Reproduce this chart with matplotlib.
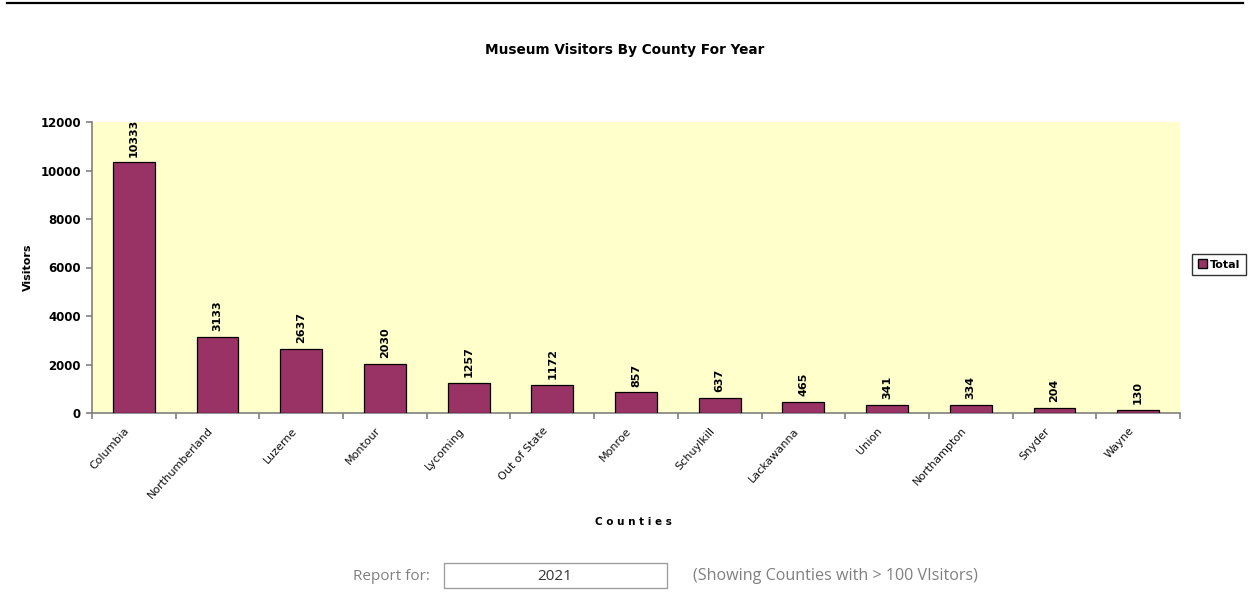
import matplotlib.pyplot as plt
import numpy as np
from matplotlib.patches import Rectangle
from matplotlib.lines import Line2D

counties = ['Columbia', 'Northumberland', 'Luzerne', 'Montour', 'Lycoming',
            'Out of State', 'Monroe', 'Schuylkill', 'Lackawanna', 'Union',
            'Northampton', 'Snyder', 'Wayne']
visitors = [10333, 3133, 2637, 2030, 1257, 1172, 857, 637, 465, 341, 334, 204, 130]
yticks = [0, 2000, 4000, 6000, 8000, 10000, 12000]
report_year = '2021'

bar_color = '#993366'
plot_bg = '#FFFFCC'

fig = plt.figure(figsize=(12.53, 6.09), dpi=100)
ax = fig.add_axes([92 / 1253, 1 - 413 / 609, (1180 - 92) / 1253, (413 - 122) / 609])
ax.set_facecolor(plot_bg)

x = np.arange(len(counties))
bars = ax.bar(x, visitors, width=0.5, color=bar_color, edgecolor='black',
              linewidth=0.9, label='Total', zorder=3)

for xi, v in zip(x, visitors):
    ax.annotate(str(v), (xi, v), xytext=(0, 4), textcoords='offset points',
                rotation=90, ha='center', va='bottom', fontsize=8,
                fontweight='bold', color='black')

ax.set_xlim(-0.5, len(counties) - 0.5)
ax.set_ylim(0, 12000)
ax.set_yticks(yticks)
ax.set_yticklabels([str(t) for t in yticks], fontsize=8.5, fontweight='bold')

# category ticks sit between the bars, labels under each bar
ax.set_xticks(np.arange(-0.5, len(counties)), minor=True)
ax.set_xticks(x - 0.12)
ax.set_xticklabels(counties, rotation=48, ha='right', rotation_mode='anchor',
                   fontsize=8, family='Liberation Sans Narrow', color='#111111')
ax.tick_params(axis='x', which='major', length=0, pad=9)
ax.tick_params(axis='x', which='minor', length=4, color='#808080', width=1.2)
ax.tick_params(axis='y', length=4, color='#808080', width=1.2, pad=4)

for s in ['top', 'right']:
    ax.spines[s].set_visible(False)
ax.spines['left'].set_color('#808080')
ax.spines['bottom'].set_color('#808080')
ax.spines['left'].set_linewidth(1.2)
ax.spines['bottom'].set_linewidth(1.2)

ax.set_ylabel('Visitors', fontsize=8, fontweight='bold')
ax.yaxis.set_label_coords(-0.054, 0.5)
fig.text(633 / 1253, 1 - 522 / 609, 'C o u n t i e s', ha='center', va='center',
         fontsize=7.5, fontweight='bold')

fig.text(625 / 1253, 1 - 50 / 609, 'Museum Visitors By County For Year',
         ha='center', va='center', fontsize=9.8, fontweight='bold')

# legend box on the right
leg = fig.legend(handles=[Rectangle((0, 0), 1, 1, facecolor=bar_color, edgecolor='black')],
                 labels=['Total'], loc='center', bbox_to_anchor=(1219 / 1253, 1 - 264.5 / 609),
                 frameon=True, fancybox=False, edgecolor='black',
                 handlelength=0.8, handleheight=0.8, handletextpad=0.3,
                 borderpad=0.5, prop={'weight': 'bold', 'size': 8})
leg.get_frame().set_linewidth(1.0)

# rule across the top of the page
fig.add_artist(Line2D([7 / 1253, 1243 / 1253], [1 - 2.5 / 609, 1 - 2.5 / 609],
                      color='black', linewidth=1.6))

# report selector row
fig.text(430 / 1253, 1 - 576 / 609, 'Report for:', ha='right', va='center',
         fontsize=11, color='#808080', family='Open Sans')
fig.add_artist(Rectangle((444 / 1253, 1 - 588 / 609), (667 - 444) / 1253, 25 / 609,
                         facecolor='white', edgecolor='#a0a0a0', linewidth=1.0,
                         transform=fig.transFigure))
fig.text(555 / 1253, 1 - 576 / 609, report_year, ha='center', va='center',
         fontsize=11, color='#333333', family='Open Sans')
fig.text(693 / 1253, 1 - 576 / 609, '(Showing Counties with > 100 VIsitors)',
         ha='left', va='center', fontsize=11.6, color='#808080', family='Open Sans')

fig.savefig('out.png', dpi=100, facecolor='white')
